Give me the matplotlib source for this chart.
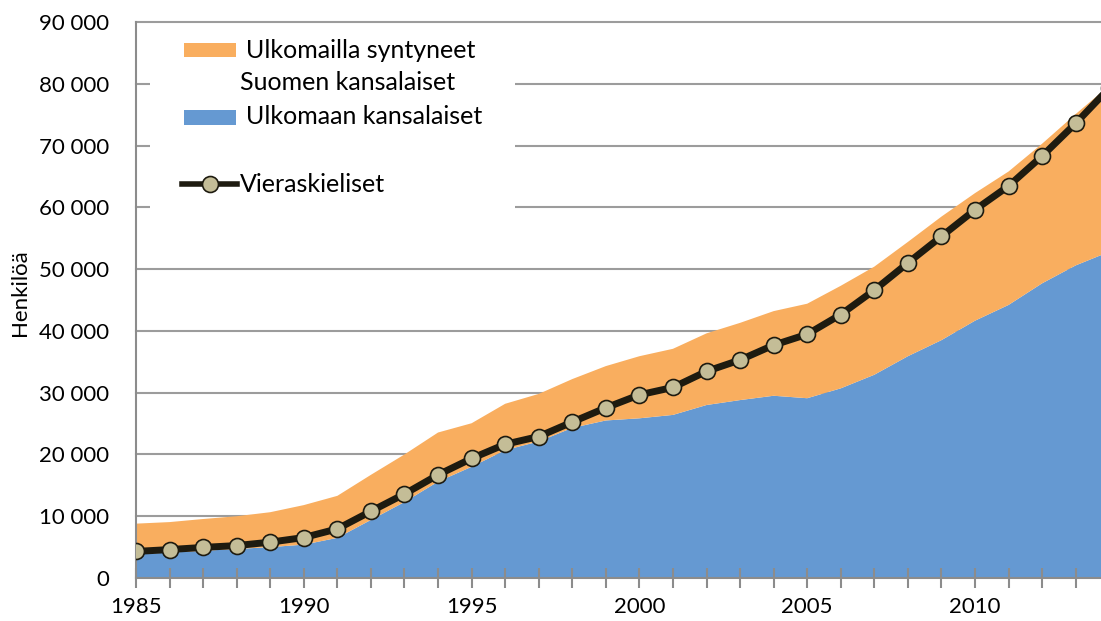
import matplotlib
matplotlib.use("Agg")
import matplotlib.pyplot as plt
from matplotlib.ticker import MultipleLocator, FuncFormatter, FixedLocator
from matplotlib.patches import Rectangle
from matplotlib.lines import Line2D

# ---------------- data ----------------
years = list(range(1985, 2015))
ulkomaan_kansalaiset = [3900, 4100, 4400, 4700, 5000, 5400, 6500, 9400, 12300, 15600,
                        18000, 20700, 22100, 24300, 25500, 25850, 26400, 28000, 28800, 29500,
                        29100, 30700, 32900, 35900, 38500, 41650, 44200, 47700, 50600, 52800]
ulkomailla_syntyneet_suomen_kansalaiset = [4900, 4950, 5150, 5300, 5650, 6400, 6800, 7300, 7700, 7950,
                                           7050, 7500, 7700, 7900, 8800, 10050, 10700, 11600, 12500, 13700,
                                           15300, 16600, 17500, 18500, 20000, 20650, 21600, 22600, 24500, 26900]
vieraskieliset = [4300, 4600, 4950, 5250, 5800, 6550, 7950, 10800, 13600, 16700,
                  19350, 21650, 22900, 25250, 27550, 29650, 30850, 33450, 35300, 37700,
                  39450, 42650, 46600, 51000, 55300, 59600, 63450, 68300, 73600, 79300]
y_ticks = [0, 10000, 20000, 30000, 40000, 50000, 60000, 70000, 80000, 90000]
x_tick_labels = [1985, 1990, 1995, 2000, 2005, 2010]

label_orange = "Ulkomailla syntyneet"
label_orange2 = "Suomen kansalaiset"
label_blue = "Ulkomaan kansalaiset"
label_line = "Vieraskieliset"
y_label = "Henkilöä"

# ---------------- style ----------------
ORANGE = "#F9AE5F"
BLUE = "#6599D2"
LINE = "#1E1B10"
MARK = "#C4BD97"
GRID = "#9C9C9C"
AXIS = "#8C8C8C"
FONT = "Lato"
FS = 16
FS_LEG = 18

plt.rcParams["font.family"] = [FONT, "DejaVu Sans"]

W, H = 1101, 621
fig = plt.figure(figsize=(W / 100, H / 100), dpi=100)
L, R, T, B = 136, 1101, 22, 578
ax = fig.add_axes([L / W, (H - B) / H, (R - L) / W, (B - T) / H])


def ax_x(px):
    return (px - L) / (R - L)


def ax_y(py):
    return (B - py) / (B - T)


ax.stackplot(years, ulkomaan_kansalaiset, ulkomailla_syntyneet_suomen_kansalaiset,
             colors=[BLUE, ORANGE], linewidth=0, zorder=1)
ax.plot(years, vieraskieliset, color=LINE, lw=5, marker="o", markersize=11.5,
        markerfacecolor=MARK, markeredgecolor=LINE, markeredgewidth=1.2, zorder=3,
        solid_joinstyle="round")

ax.set_xlim(1985, 1985 + (R - L) / ((975 - 136) / 25))
ax.set_ylim(0, 90000)

# gridlines drawn below the areas
for v in y_ticks[1:]:
    ax.axhline(v, color=GRID, lw=1.5, zorder=0.5, clip_on=False)
# white box behind legend hides gridlines
ax.add_patch(Rectangle((ax_x(150), ax_y(212)), ax_x(515) - ax_x(150), ax_y(26) - ax_y(212),
                       transform=ax.transAxes, facecolor="white", edgecolor="none", zorder=0.7))

ax.yaxis.set_major_locator(FixedLocator(y_ticks))
ax.yaxis.set_major_formatter(FuncFormatter(lambda v, p: f"{int(v):,}".replace(",", " ")))
ax.xaxis.set_major_locator(FixedLocator(x_tick_labels))
ax.xaxis.set_minor_locator(MultipleLocator(1))
ax.xaxis.set_major_formatter(FuncFormatter(lambda v, p: f"{int(v)}"))

ax.tick_params(axis="y", length=0, pad=19, labelsize=FS, labelcolor="black")
ax.tick_params(axis="x", which="both", direction="inout", length=15, width=1.5, color=AXIS)
ax.tick_params(axis="x", which="major", pad=6, labelsize=FS, labelcolor="black")

for s in ["top", "right"]:
    ax.spines[s].set_visible(False)
for s in ["left", "bottom"]:
    ax.spines[s].set_color(AXIS)
    ax.spines[s].set_linewidth(1.5)

fig.text(20 / W, 1 - 293 / H, y_label, rotation=90, va="center", ha="center", fontsize=FS)

# ---------------- legend (manual) ----------------
tr = ax.transAxes
ax.add_patch(Rectangle((ax_x(184), ax_y(57)), ax_x(236) - ax_x(184), ax_y(43) - ax_y(57),
                       transform=tr, facecolor=ORANGE, edgecolor="none", zorder=5, clip_on=False))
ax.add_patch(Rectangle((ax_x(184), ax_y(125)), ax_x(236) - ax_x(184), ax_y(110) - ax_y(125),
                       transform=tr, facecolor=BLUE, edgecolor="none", zorder=5, clip_on=False))
ax.text(ax_x(246), ax_y(50), label_orange, transform=tr, va="center", ha="left", fontsize=FS_LEG, zorder=6)
ax.text(ax_x(240), ax_y(82), label_orange2, transform=tr, va="center", ha="left", fontsize=FS_LEG, zorder=6)
ax.text(ax_x(246), ax_y(117), label_blue, transform=tr, va="center", ha="left", fontsize=FS_LEG, zorder=6)
ax.add_line(Line2D([ax_x(182), ax_x(237)], [ax_y(184), ax_y(184)], transform=tr, color=LINE, lw=4,
                   zorder=6, clip_on=False))
ax.add_line(Line2D([ax_x(210)], [ax_y(184)], transform=tr, marker="o", markersize=11.5,
                   markerfacecolor=MARK, markeredgecolor=LINE, markeredgewidth=1.2, zorder=7,
                   clip_on=False))
ax.text(ax_x(240), ax_y(184), label_line, transform=tr, va="center", ha="left", fontsize=FS_LEG, zorder=6)

fig.savefig("out.png", dpi=100)
